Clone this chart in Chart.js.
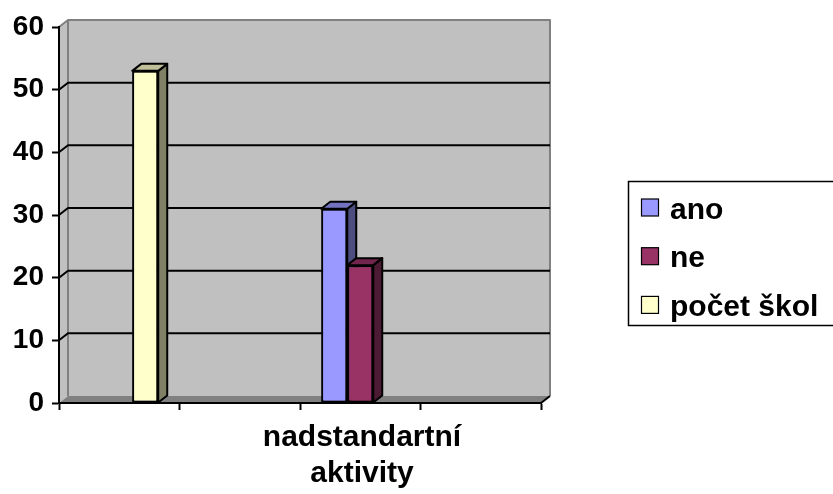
<!DOCTYPE html>
<html>
<head>
<meta charset="utf-8">
<script src="https://cdn.jsdelivr.net/npm/chart.js@4.4.1/dist/chart.umd.min.js"></script>
<style>
  html, body { margin: 0; padding: 0; background: #ffffff; }
  #wrap { width: 833px; height: 494px; position: relative; }
</style>
</head>
<body>
<div id="wrap"><canvas id="chart" width="833" height="494"></canvas></div>
<script>
// Data
const categories = ['', '', '', ''];
const seriesNames = ['ano', 'ne', 'počet škol'];
const anoValues = [null, null, 31, null];
const neValues = [null, null, 22, null];
const pocetSkolValues = [53, null, null, null];
const yTickValues = [0, 10, 20, 30, 40, 50, 60];
const axisTitle = ['nadstandartní', 'aktivity'];

// Styling
const FONT = "'Liberation Sans', Arial, sans-serif";
const frontColors = ['#9999ff', '#993366', '#ffffcc'];
const DX = 9, DY = -7; // depth offset of the 3D box

function shade(hex, f) {
  const n = parseInt(hex.slice(1), 16);
  const r = Math.round(((n >> 16) & 255) * f);
  const g = Math.round(((n >> 8) & 255) * f);
  const b = Math.round((n & 255) * f);
  return `rgb(${r},${g},${b})`;
}

function poly(ctx, pts, fill, stroke, lw) {
  ctx.beginPath();
  ctx.moveTo(pts[0][0], pts[0][1]);
  for (let i = 1; i < pts.length; i++) ctx.lineTo(pts[i][0], pts[i][1]);
  ctx.closePath();
  if (fill) { ctx.fillStyle = fill; ctx.fill(); }
  if (stroke) { ctx.strokeStyle = stroke; ctx.lineWidth = lw; ctx.stroke(); }
}

const boxPlugin = {
  id: 'box3d',
  // Back wall, side wall, floor and the gridlines on the back wall
  beforeDraw(chart) {
    const { ctx, chartArea: a, scales: { y } } = chart;
    const l = a.left + DX, r = a.right + DX, t = a.top + DY, b = a.bottom + DY;
    ctx.save();
    ctx.lineJoin = 'round';
    poly(ctx, [[l, t], [r, t], [r, b], [l, b]], '#c0c0c0');
    poly(ctx, [[a.left, a.top], [l, t], [l, b], [a.left, a.bottom]], '#c0c0c0');
    poly(ctx, [[a.left, a.bottom], [l, b], [r, b], [a.right, a.bottom]], '#808080');
    ctx.strokeStyle = '#808080';
    ctx.lineWidth = 2;
    ctx.beginPath();
    ctx.moveTo(a.left, a.top); ctx.lineTo(l, t); ctx.lineTo(r, t); ctx.lineTo(r, b);
    ctx.moveTo(l, t); ctx.lineTo(l, b);
    ctx.stroke();
    ctx.strokeStyle = '#000000';
    ctx.lineWidth = 2;
    y.ticks.forEach(tk => {
      if (tk.value <= y.min || tk.value >= y.max) return;
      const py = y.getPixelForValue(tk.value);
      ctx.beginPath();
      ctx.moveTo(a.left, py);
      ctx.lineTo(l, py + DY);
      ctx.lineTo(r, py + DY);
      ctx.stroke();
    });
    ctx.beginPath();
    ctx.moveTo(a.right, a.bottom);
    ctx.lineTo(r, b);
    ctx.stroke();
    ctx.restore();
  },
  // Side and top faces of every bar, then its front face again on top
  afterDatasetsDraw(chart) {
    const ctx = chart.ctx;
    ctx.save();
    ctx.lineJoin = 'round';
    chart.data.datasets.forEach((ds, di) => {
      const meta = chart.getDatasetMeta(di);
      const base = frontColors[di];
      meta.data.forEach((el, i) => {
        if (ds.data[i] === null || ds.data[i] === undefined) return;
        const { x, y, base: yb, width } = el.getProps(['x', 'y', 'base', 'width'], true);
        const x0 = x - width / 2, x1 = x + width / 2;
        poly(ctx, [[x1, y], [x1 + DX, y + DY], [x1 + DX, yb + DY], [x1, yb]], shade(base, 0.5), '#000', 2);
        poly(ctx, [[x0, y], [x0 + DX, y + DY], [x1 + DX, y + DY], [x1, y]], shade(base, 0.75), '#000', 2);
        el.draw(ctx);
      });
    });
    ctx.restore();
  },
  afterDraw(chart) {
    const ctx = chart.ctx;
    ctx.save();
    // category axis title, two lines
    ctx.fillStyle = '#000';
    ctx.font = `bold 30px ${FONT}`;
    ctx.textAlign = 'center';
    ctx.textBaseline = 'alphabetic';
    axisTitle.forEach((line, i) => ctx.fillText(line, 362, 446 + i * 36));
    // boxed legend on the right
    ctx.strokeStyle = '#000';
    ctx.lineWidth = 1.5;
    ctx.strokeRect(628.5, 181.5, 260, 144);
    ctx.font = `bold 30px ${FONT}`;
    ctx.textAlign = 'left';
    chart.data.datasets.forEach((ds, i) => {
      const cy = 207.5 + i * 48.7;
      ctx.fillStyle = ds.backgroundColor;
      ctx.fillRect(641.5, cy - 8.5, 17, 17);
      ctx.lineWidth = 1.2;
      ctx.strokeRect(641.5, cy - 8.5, 17, 17);
      ctx.fillStyle = '#000';
      ctx.fillText(ds.label, 670, cy + 11);
    });
    ctx.restore();
  }
};

const datasetValues = [anoValues, neValues, pocetSkolValues];

new Chart(document.getElementById('chart'), {
  type: 'bar',
  data: {
    labels: categories,
    datasets: seriesNames.map((name, i) => ({
      label: name,
      data: datasetValues[i],
      backgroundColor: frontColors[i],
      borderColor: '#000000',
      borderWidth: 2,
      borderSkipped: false,
      barPercentage: 1.0,
      categoryPercentage: 0.647
    }))
  },
  options: {
    responsive: false,
    animation: false,
    devicePixelRatio: 1,
    layout: { padding: { left: 0, top: 27, right: 292, bottom: 0 } },
    plugins: { legend: { display: false }, tooltip: { enabled: false } },
    scales: {
      x: {
        offset: true,
        grid: {
          offset: true, drawOnChartArea: false, drawTicks: true,
          tickLength: 7, tickColor: '#000', tickWidth: 2
        },
        border: { display: true, color: '#000', width: 2 },
        ticks: { display: true, font: { family: FONT, size: 10 } },
        title: { display: false },
        afterFit(scale) { scale.height = 91; }
      },
      y: {
        min: 0, max: 60,
        afterBuildTicks(scale) { scale.ticks = yTickValues.map(v => ({ value: v })); },
        grid: {
          drawOnChartArea: false, drawTicks: true,
          tickLength: 7, tickColor: '#000', tickWidth: 2
        },
        border: { display: true, color: '#000', width: 2 },
        ticks: {
          padding: 8, color: '#000',
          font: { family: FONT, size: 28, weight: 'bold' }
        },
        afterFit(scale) { scale.width = 59; }
      }
    }
  },
  plugins: [boxPlugin]
});
</script>
</body>
</html>
